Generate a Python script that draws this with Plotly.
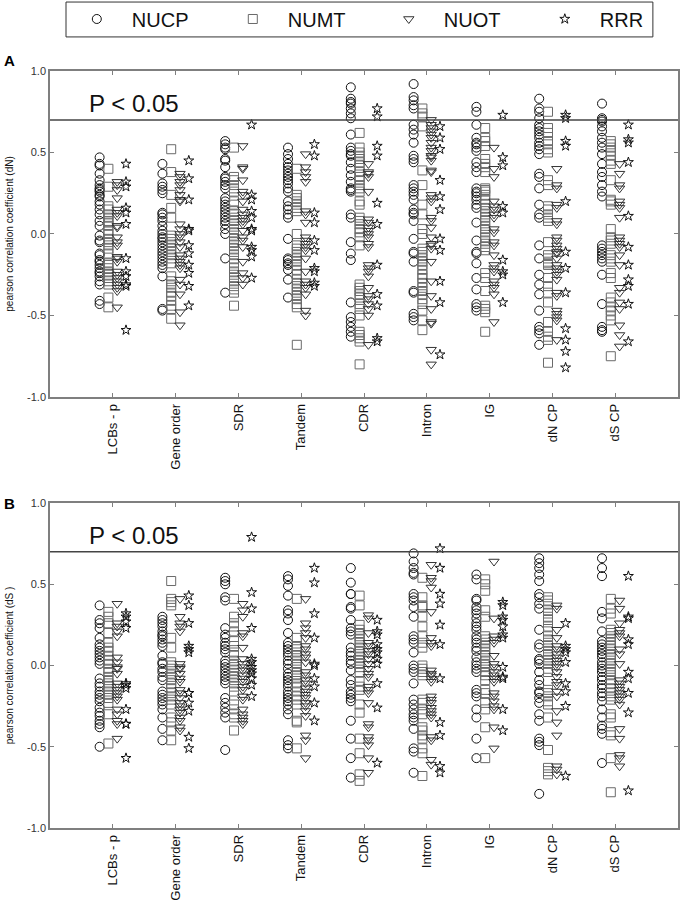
import plotly.graph_objects as go

categories = ["LCBs - p", "Gene order", "SDR", "Tandem", "CDR", "Intron", "IG", "dN CP", "dS CP"]
series_names = ["NUCP", "NUMT", "NUOT", "RRR"]
y_tick_vals = [-1.0, -0.5, 0.0, 0.5, 1.0]
y_tick_text = ["-1.0", "-0.5", "0.0", "0.5", "1.0"]
p_threshold = 0.7

# ---------------- Panel A (dN) ----------------
a_nucp = [
    [0.47, 0.43, 0.42, 0.37, 0.33, 0.30, 0.28, 0.27, 0.26, 0.24, 0.23, 0.20, 0.18, 0.15, 0.12, 0.08, 0.05, -0.01, -0.04, -0.05, -0.12, -0.13, -0.16, -0.17, -0.19, -0.21, -0.23, -0.24, -0.26, -0.29, -0.31, -0.41, -0.43],
    [0.43, 0.37, 0.31, 0.29, 0.27, 0.25, 0.13, 0.12, 0.10, 0.08, 0.05, 0.02, 0.00, -0.02, -0.03, -0.05, -0.07, -0.09, -0.11, -0.13, -0.15, -0.17, -0.19, -0.21, -0.26, -0.46, -0.47],
    [0.57, 0.55, 0.53, 0.52, 0.46, 0.45, 0.41, 0.35, 0.34, 0.32, 0.30, 0.28, 0.22, 0.20, 0.18, 0.16, 0.14, 0.12, 0.10, 0.08, 0.06, 0.03, 0.00, -0.15, -0.36],
    [0.53, 0.49, 0.46, 0.43, 0.41, 0.39, 0.37, 0.35, 0.33, 0.31, 0.28, 0.26, 0.20, 0.17, 0.15, 0.12, 0.10, -0.03, -0.15, -0.16, -0.18, -0.19, -0.22, -0.28, -0.39],
    [0.90, 0.83, 0.81, 0.80, 0.77, 0.74, 0.71, 0.61, 0.53, 0.51, 0.49, 0.48, 0.44, 0.40, 0.36, 0.32, 0.28, 0.27, 0.26, 0.12, 0.10, -0.05, -0.12, -0.16, -0.42, -0.51, -0.54, -0.57, -0.60, -0.63],
    [0.92, 0.84, 0.82, 0.79, 0.77, 0.67, 0.64, 0.61, 0.56, 0.48, 0.46, 0.44, 0.30, 0.28, 0.26, 0.24, 0.21, 0.15, 0.13, 0.12, 0.08, -0.03, -0.11, -0.12, -0.17, -0.35, -0.36, -0.49, -0.51, -0.53],
    [0.78, 0.75, 0.67, 0.59, 0.56, 0.55, 0.53, 0.51, 0.44, 0.41, 0.38, 0.28, 0.26, 0.25, 0.23, 0.21, 0.18, 0.16, 0.07, -0.04, -0.11, -0.12, -0.18, -0.27, -0.34, -0.43, -0.45, -0.47],
    [0.83, 0.77, 0.75, 0.71, 0.67, 0.65, 0.63, 0.61, 0.59, 0.56, 0.54, 0.52, 0.49, 0.37, 0.35, 0.28, 0.18, 0.12, 0.10, -0.07, -0.15, -0.25, -0.31, -0.37, -0.47, -0.57, -0.59, -0.61, -0.68],
    [0.80, 0.71, 0.70, 0.69, 0.66, 0.63, 0.59, 0.56, 0.53, 0.49, 0.43, 0.38, 0.35, 0.30, 0.26, 0.23, -0.07, -0.09, -0.11, -0.13, -0.15, -0.17, -0.25, -0.43, -0.57, -0.59, -0.60],
]
a_numt = [
    [0.40, 0.29, 0.17, 0.15, 0.12, 0.10, 0.08, 0.07, 0.05, 0.02, 0.00, -0.03, -0.05, -0.07, -0.09, -0.12, -0.18, -0.19, -0.21, -0.23, -0.25, -0.27, -0.29, -0.31, -0.39, -0.45],
    [0.52, 0.38, 0.24, 0.16, 0.10, -0.01, -0.03, -0.05, -0.07, -0.09, -0.11, -0.13, -0.15, -0.18, -0.26, -0.29, -0.31, -0.33, -0.36, -0.38, -0.41, -0.44, -0.46, -0.52],
    [0.53, 0.35, 0.33, 0.30, 0.28, 0.26, 0.20, 0.18, 0.14, 0.12, 0.10, 0.08, 0.06, 0.03, 0.01, -0.01, -0.03, -0.05, -0.07, -0.09, -0.11, -0.13, -0.15, -0.18, -0.21, -0.23, -0.25, -0.27, -0.29, -0.32, -0.34, -0.36, -0.44],
    [0.40, 0.24, 0.22, 0.20, 0.18, 0.16, 0.14, 0.00, -0.07, -0.09, -0.11, -0.13, -0.15, -0.17, -0.19, -0.22, -0.25, -0.28, -0.30, -0.32, -0.34, -0.36, -0.38, -0.40, -0.43, -0.45, -0.68],
    [0.62, 0.53, 0.50, 0.48, 0.46, 0.44, 0.42, 0.38, 0.35, 0.33, 0.30, 0.28, 0.26, 0.20, 0.18, 0.10, 0.08, 0.06, 0.03, 0.01, -0.02, -0.07, -0.31, -0.33, -0.35, -0.37, -0.39, -0.43, -0.46, -0.50, -0.60, -0.62, -0.64, -0.66, -0.80],
    [0.77, 0.74, 0.72, 0.66, 0.39, 0.30, 0.18, 0.12, 0.03, 0.00, -0.09, -0.11, -0.13, -0.15, -0.17, -0.19, -0.22, -0.25, -0.27, -0.30, -0.33, -0.35, -0.37, -0.40, -0.43, -0.47, -0.53, -0.59],
    [0.65, 0.59, 0.57, 0.54, 0.46, 0.43, 0.41, 0.38, 0.28, 0.27, 0.26, 0.24, 0.21, 0.18, 0.16, 0.14, 0.12, 0.10, 0.08, 0.05, 0.03, 0.01, -0.02, -0.04, -0.06, -0.08, -0.10, -0.24, -0.27, -0.35, -0.44, -0.46, -0.48, -0.60],
    [0.75, 0.65, 0.62, 0.57, 0.55, 0.52, 0.50, 0.33, 0.30, 0.17, 0.15, 0.12, 0.10, 0.08, -0.05, -0.13, -0.15, -0.17, -0.18, -0.19, -0.27, -0.32, -0.36, -0.42, -0.54, -0.60, -0.63, -0.65, -0.79],
    [0.57, 0.55, 0.53, 0.51, 0.48, 0.45, 0.43, 0.33, 0.21, 0.20, 0.18, 0.03, -0.02, -0.04, -0.06, -0.13, -0.15, -0.17, -0.24, -0.27, -0.39, -0.42, -0.45, -0.47, -0.50, -0.53, -0.75],
]
a_nuot = [
    [0.32, 0.30, 0.27, 0.22, 0.15, 0.13, 0.11, 0.05, 0.04, -0.02, -0.05, -0.07, -0.14, -0.15, -0.17, -0.23, -0.25, -0.27, -0.29, -0.31, -0.33, -0.35, -0.45],
    [0.37, 0.35, 0.32, 0.30, 0.27, 0.24, 0.21, 0.20, 0.06, 0.03, 0.00, -0.02, -0.05, -0.08, -0.13, -0.15, -0.17, -0.19, -0.21, -0.28, -0.31, -0.37, -0.48, -0.56],
    [0.54, 0.41, 0.40, 0.33, 0.26, 0.24, 0.20, 0.15, 0.12, 0.10, 0.08, 0.06, 0.02, -0.02, -0.04, -0.08, -0.17, -0.24, -0.27, -0.31],
    [0.49, 0.41, 0.38, 0.35, 0.32, 0.14, 0.12, 0.07, -0.02, -0.04, -0.06, -0.08, -0.10, -0.15, -0.23, -0.29, -0.31, -0.33, -0.37, -0.47, -0.50],
    [0.43, 0.38, 0.37, 0.35, 0.26, 0.09, 0.07, 0.04, 0.02, 0.00, -0.02, -0.06, -0.08, -0.19, -0.21, -0.23, -0.26, -0.33, -0.38, -0.40, -0.43, -0.46, -0.50, -0.68],
    [0.70, 0.67, 0.65, 0.63, 0.61, 0.59, 0.56, 0.53, 0.51, 0.48, 0.47, 0.45, 0.39, 0.38, 0.24, 0.22, 0.20, 0.10, 0.08, 0.04, -0.02, -0.06, -0.07, -0.09, -0.17, -0.29, -0.38, -0.46, -0.54, -0.55, -0.71, -0.80],
    [0.53, 0.40, 0.35, 0.20, 0.17, 0.15, 0.12, 0.10, 0.03, 0.01, -0.05, -0.07, -0.13, -0.19, -0.21, -0.23, -0.29, -0.31, -0.33, -0.37, -0.54],
    [0.40, 0.30, 0.28, 0.18, 0.16, 0.08, 0.06, -0.02, -0.04, -0.07, -0.09, -0.11, -0.12, -0.15, -0.19, -0.21, -0.23, -0.25, -0.28, -0.36, -0.38, -0.47, -0.49, -0.51, -0.53, -0.65],
    [0.43, 0.37, 0.30, 0.28, 0.20, 0.18, 0.16, 0.10, -0.02, -0.04, -0.06, -0.08, -0.13, -0.19, -0.33, -0.36, -0.42, -0.46, -0.56, -0.62, -0.69],
]
a_rrr = [
    [0.43, 0.32, 0.29, 0.16, 0.13, 0.06, -0.15, -0.23, -0.26, -0.31, -0.32, -0.59],
    [0.45, 0.34, 0.21, 0.03, 0.02, -0.07, -0.12, -0.19, -0.24, -0.32, -0.44],
    [0.67, 0.24, 0.21, 0.14, 0.10, 0.03, 0.02, -0.08, -0.10, -0.14, -0.27],
    [0.55, 0.48, 0.13, 0.07, -0.04, -0.10, -0.21, -0.23, -0.30, -0.32],
    [0.77, 0.72, 0.54, 0.48, 0.19, 0.06, -0.19, -0.37, -0.44, -0.64, -0.66],
    [0.66, 0.59, 0.52, 0.33, 0.23, 0.15, -0.03, -0.10, -0.29, -0.42, -0.74],
    [0.73, 0.47, 0.42, 0.17, 0.13, -0.16, -0.23, -0.25, -0.42],
    [0.73, 0.71, 0.57, 0.54, 0.20, -0.11, -0.21, -0.36, -0.58, -0.65, -0.72, -0.82],
    [0.67, 0.58, 0.56, 0.44, 0.11, -0.08, -0.19, -0.28, -0.32, -0.43, -0.66],
]

# ---------------- Panel B (dS) ----------------
b_nucp = [
    [0.37, 0.28, 0.26, 0.23, 0.17, 0.13, 0.11, 0.09, 0.07, 0.05, 0.03, 0.01, -0.08, -0.11, -0.13, -0.16, -0.18, -0.20, -0.22, -0.26, -0.29, -0.31, -0.34, -0.36, -0.38, -0.50],
    [0.30, 0.28, 0.26, 0.24, 0.21, 0.19, 0.18, 0.16, 0.14, 0.12, 0.06, 0.02, 0.01, -0.02, -0.04, -0.07, -0.09, -0.16, -0.18, -0.20, -0.22, -0.24, -0.27, -0.32, -0.39, -0.46],
    [0.54, 0.52, 0.50, 0.42, 0.40, 0.23, 0.19, 0.17, 0.14, 0.12, 0.10, 0.08, 0.03, 0.01, -0.01, -0.03, -0.05, -0.07, -0.09, -0.11, -0.20, -0.23, -0.26, -0.29, -0.32, -0.52],
    [0.55, 0.53, 0.49, 0.43, 0.34, 0.32, 0.28, 0.20, 0.14, 0.12, 0.10, 0.08, 0.06, 0.03, 0.01, -0.02, -0.05, -0.07, -0.09, -0.11, -0.13, -0.16, -0.18, -0.20, -0.22, -0.24, -0.27, -0.30, -0.46, -0.49, -0.51],
    [0.60, 0.51, 0.44, 0.44, 0.36, 0.35, 0.28, 0.23, 0.21, 0.19, 0.11, 0.08, 0.06, 0.03, 0.01, -0.03, -0.09, -0.12, -0.16, -0.18, -0.20, -0.22, -0.34, -0.45, -0.57, -0.69],
    [0.69, 0.64, 0.60, 0.57, 0.56, 0.44, 0.42, 0.40, 0.36, 0.30, 0.18, 0.16, 0.14, 0.08, 0.00, -0.02, -0.04, -0.11, -0.21, -0.24, -0.27, -0.30, -0.32, -0.34, -0.39, -0.51, -0.53, -0.66],
    [0.56, 0.53, 0.41, 0.40, 0.36, 0.34, 0.32, 0.29, 0.26, 0.24, 0.22, 0.18, 0.16, 0.14, 0.11, 0.09, 0.05, 0.02, 0.00, -0.02, -0.04, -0.15, -0.17, -0.19, -0.27, -0.32, -0.45, -0.57],
    [0.66, 0.63, 0.60, 0.56, 0.52, 0.44, 0.42, 0.38, 0.35, 0.22, 0.13, 0.11, 0.04, 0.03, 0.01, -0.04, -0.09, -0.12, -0.16, -0.17, -0.20, -0.23, -0.30, -0.34, -0.45, -0.47, -0.49, -0.79],
    [0.66, 0.60, 0.55, 0.33, 0.29, 0.21, 0.15, 0.13, 0.11, 0.09, 0.07, 0.05, 0.02, 0.00, -0.02, -0.04, -0.07, -0.09, -0.12, -0.14, -0.17, -0.19, -0.22, -0.27, -0.32, -0.37, -0.39, -0.42, -0.60],
]
b_numt = [
    [0.33, 0.30, 0.26, 0.20, 0.14, 0.11, 0.09, 0.06, 0.03, 0.01, -0.02, -0.04, -0.07, -0.09, -0.11, -0.13, -0.16, -0.18, -0.20, -0.23, -0.30, -0.48],
    [0.52, 0.41, 0.39, 0.37, 0.17, 0.11, 0.02, 0.00, -0.02, -0.05, -0.07, -0.09, -0.11, -0.14, -0.17, -0.19, -0.21, -0.24, -0.32, -0.35, -0.40, -0.46],
    [0.41, 0.30, 0.26, 0.24, 0.21, 0.15, 0.12, 0.08, 0.06, 0.03, 0.01, -0.01, -0.03, -0.05, -0.07, -0.09, -0.11, -0.13, -0.16, -0.24, -0.27, -0.30, -0.32, -0.40],
    [0.41, 0.17, 0.12, 0.10, 0.08, 0.06, 0.03, 0.01, -0.01, -0.04, -0.06, -0.08, -0.11, -0.13, -0.16, -0.19, -0.21, -0.24, -0.34, -0.35, -0.51],
    [0.43, 0.37, 0.25, 0.22, 0.20, 0.18, 0.16, 0.14, 0.11, 0.09, 0.07, 0.05, 0.03, 0.01, -0.01, -0.04, -0.10, -0.13, -0.15, -0.24, -0.29, -0.45, -0.54, -0.67, -0.71],
    [0.54, 0.42, 0.37, 0.36, 0.30, 0.24, 0.18, 0.14, 0.11, 0.00, -0.02, -0.04, -0.06, -0.21, -0.23, -0.27, -0.30, -0.38, -0.40, -0.43, -0.45, -0.51, -0.54, -0.68],
    [0.53, 0.50, 0.46, 0.34, 0.30, 0.18, 0.16, 0.14, 0.12, 0.10, 0.08, 0.06, 0.03, 0.01, -0.01, -0.04, -0.06, -0.09, -0.15, -0.17, -0.23, -0.27, -0.38, -0.57],
    [0.42, 0.40, 0.38, 0.34, 0.32, 0.30, 0.28, 0.24, 0.21, 0.18, 0.16, 0.14, 0.12, 0.09, 0.07, 0.05, 0.03, 0.01, -0.02, -0.04, -0.15, -0.17, -0.19, -0.22, -0.24, -0.32, -0.52, -0.63, -0.65, -0.67],
    [0.41, 0.35, 0.32, 0.22, 0.20, 0.18, 0.16, 0.14, 0.12, 0.10, 0.07, 0.05, 0.03, 0.01, -0.02, -0.04, -0.06, -0.09, -0.11, -0.14, -0.17, -0.19, -0.21, -0.30, -0.32, -0.41, -0.43, -0.57, -0.78],
]
b_nuot = [
    [0.38, 0.26, 0.24, 0.21, 0.18, 0.05, 0.02, -0.01, -0.02, -0.05, -0.11, -0.13, -0.15, -0.17, -0.19, -0.21, -0.27, -0.30, -0.34, -0.36, -0.45],
    [0.41, 0.30, 0.26, 0.24, 0.21, 0.01, -0.01, -0.02, -0.05, -0.08, -0.10, -0.15, -0.17, -0.20, -0.23, -0.25, -0.27, -0.29, -0.32, -0.34, -0.38, -0.40],
    [0.38, 0.34, 0.30, 0.20, 0.18, 0.11, 0.04, 0.01, -0.01, -0.03, -0.06, -0.08, -0.10, -0.13, -0.15, -0.19, -0.21, -0.27, -0.30, -0.32, -0.34, -0.36],
    [0.41, 0.26, 0.23, 0.20, 0.17, 0.12, 0.10, 0.07, 0.05, 0.02, -0.04, -0.06, -0.09, -0.11, -0.14, -0.16, -0.18, -0.20, -0.23, -0.25, -0.28, -0.31, -0.43, -0.46, -0.57],
    [0.31, 0.29, 0.20, 0.14, 0.12, 0.09, 0.07, 0.04, 0.01, -0.02, -0.05, -0.07, -0.13, -0.15, -0.17, -0.23, -0.36, -0.38, -0.44, -0.46, -0.49, -0.57, -0.66],
    [0.62, 0.54, 0.52, 0.48, 0.33, 0.17, 0.14, 0.12, -0.03, -0.05, -0.06, -0.08, -0.10, -0.19, -0.21, -0.23, -0.26, -0.28, -0.30, -0.32, -0.44, -0.46, -0.58, -0.61],
    [0.64, 0.29, 0.18, 0.16, 0.14, 0.06, 0.01, -0.01, -0.04, -0.06, -0.08, -0.10, -0.17, -0.19, -0.22, -0.25, -0.27, -0.38, -0.51],
    [0.37, 0.35, 0.22, 0.17, 0.12, 0.10, 0.07, 0.05, 0.03, 0.01, -0.01, -0.04, -0.07, -0.10, -0.12, -0.16, -0.19, -0.28, -0.35, -0.43, -0.62, -0.64, -0.67],
    [0.40, 0.35, 0.26, 0.22, 0.20, 0.18, 0.10, 0.07, 0.01, -0.09, -0.11, -0.13, -0.15, -0.17, -0.19, -0.21, -0.24, -0.39, -0.45, -0.55, -0.57, -0.62],
]
b_rrr = [
    [0.32, 0.30, 0.27, 0.23, -0.11, -0.12, -0.14, -0.27, -0.36, -0.36, -0.57],
    [0.43, 0.37, 0.26, 0.12, 0.10, 0.08, -0.17, -0.17, -0.23, -0.28, -0.44, -0.51],
    [0.79, 0.45, 0.35, 0.23, 0.04, 0.02, -0.01, -0.03, -0.05, -0.08, -0.12, -0.19],
    [0.60, 0.51, 0.32, 0.17, 0.01, 0.00, -0.08, -0.13, -0.23, -0.34],
    [0.28, 0.21, 0.19, 0.13, 0.10, 0.08, 0.04, 0.01, -0.11, -0.26, -0.60],
    [0.72, 0.60, 0.44, 0.38, 0.25, 0.13, -0.08, -0.35, -0.43, -0.62, -0.66],
    [0.39, 0.37, 0.30, 0.28, 0.24, 0.19, 0.17, -0.01, -0.07, -0.08, -0.27, -0.40],
    [0.26, 0.12, 0.10, 0.08, 0.02, -0.11, -0.16, -0.25, -0.68],
    [0.55, 0.30, 0.29, 0.16, 0.13, -0.04, -0.08, -0.17, -0.29, -0.77],
]

panel_a = [a_nucp, a_numt, a_nuot, a_rrr]
panel_b = [b_nucp, b_numt, b_nuot, b_rrr]

styles = [
    dict(symbol="circle-open", color="#111111", size=9),
    dict(symbol="square-open", color="#6a6a6a", size=9),
    dict(symbol="triangle-down-open", color="#333333", size=9),
    dict(symbol="star-open", color="#111111", size=7.5),
]

fig = go.Figure()

def add_panel(panel, xaxis, yaxis, show_legend):
    for name, groups, st in zip(series_names, panel, styles):
        xs, ys = [], []
        for cat, vals in zip(categories, groups):
            xs.extend([cat] * len(vals))
            ys.extend(vals)
        fig.add_trace(go.Scatter(
            x=xs, y=ys, mode="markers", name=name, legendgroup=name,
            showlegend=show_legend, xaxis=xaxis, yaxis=yaxis,
            offsetgroup=name,
            marker=dict(symbol=st["symbol"], size=st["size"], color=st["color"],
                        line=dict(width=1, color=st["color"])),
        ))

add_panel(panel_a, "x", "y", True)
add_panel(panel_b, "x2", "y2", False)

axis_color = "#7f7f7f"
font_family = "Liberation Sans, Arial, sans-serif"
xcommon = dict(type="category", categoryorder="array", categoryarray=categories,
               range=[-1, 9], showline=True, linecolor=axis_color, linewidth=1.5,
               mirror="ticks", ticks="inside", ticklen=4, tickcolor=axis_color,
               tickangle=-90, showgrid=False, zeroline=False, automargin=False,
               tickfont=dict(family=font_family, size=13, color="#111"))
ycommon = dict(range=[-1, 1], tickvals=y_tick_vals, ticktext=y_tick_text,
               showline=True, linecolor=axis_color, linewidth=1.5, mirror="ticks",
               ticks="inside", ticklen=4, tickcolor=axis_color, showgrid=False,
               zeroline=False, automargin=False,
               tickfont=dict(family=font_family, size=11, color="#333"))

fig.update_layout(
    width=680, height=903,
    margin=dict(l=50, r=2, t=71, b=75, autoexpand=False),
    plot_bgcolor="white", paper_bgcolor="white",
    scattermode="group", scattergap=0.44,
    xaxis=dict(xcommon, anchor="y"),
    xaxis2=dict(xcommon, anchor="y2"),
    yaxis=dict(ycommon, domain=[0.5694, 1.0], anchor="x",
               title=dict(text="pearson correlation coefficient (dN)", standoff=12,
                          font=dict(family=font_family, size=10, color="#111"))),
    yaxis2=dict(ycommon, domain=[0.0, 0.4293], anchor="x2",
                title=dict(text="pearson correlation coefficient (dS )", standoff=12,
                           font=dict(family=font_family, size=10, color="#111"))),
    legend=dict(orientation="h", x=0.0188, xanchor="left", y=1.0687, yanchor="middle",
                borderwidth=0, bgcolor="rgba(0,0,0,0)",
                font=dict(family=font_family, size=20, color="#111"),
                entrywidth=81, entrywidthmode="pixels", itemsizing="trace",
                itemwidth=60, tracegroupgap=0),
    showlegend=True,
)

# legend frame
fig.add_shape(type="rect", xref="paper", yref="paper", x0=0.0255, x1=0.960,
              y0=1.045, y1=1.0911, line=dict(color="#333", width=1), layer="above")

for yref, xref in (("y", "x"), ("y2", "x2")):
    fig.add_shape(type="line", xref=f"{xref} domain", yref=yref, x0=0, x1=1,
                  y0=p_threshold, y1=p_threshold, line=dict(color="#444", width=1.5))

for xref, yref in (("x", "y"), ("x2", "y2")):
    fig.add_annotation(text="P < 0.05", xref=xref, yref=yref, x=-0.41, y=0.80,
                       xanchor="left", showarrow=False,
                       font=dict(family=font_family, size=24, color="#111"))
fig.add_annotation(text="<b>A</b>", xref="paper", yref="paper", x=-0.064, y=1.0145,
                   xanchor="center", yanchor="middle", showarrow=False,
                   font=dict(family=font_family, size=15, color="#000"))
fig.add_annotation(text="<b>B</b>", xref="paper", yref="paper", x=-0.064, y=0.4293,
                   xanchor="center", yanchor="middle", showarrow=False,
                   font=dict(family=font_family, size=15, color="#000"))

fig.write_html("out.html", config={"displayModeBar": False},
               post_script="document.body.style.margin='0';document.body.style.overflow='hidden';")
